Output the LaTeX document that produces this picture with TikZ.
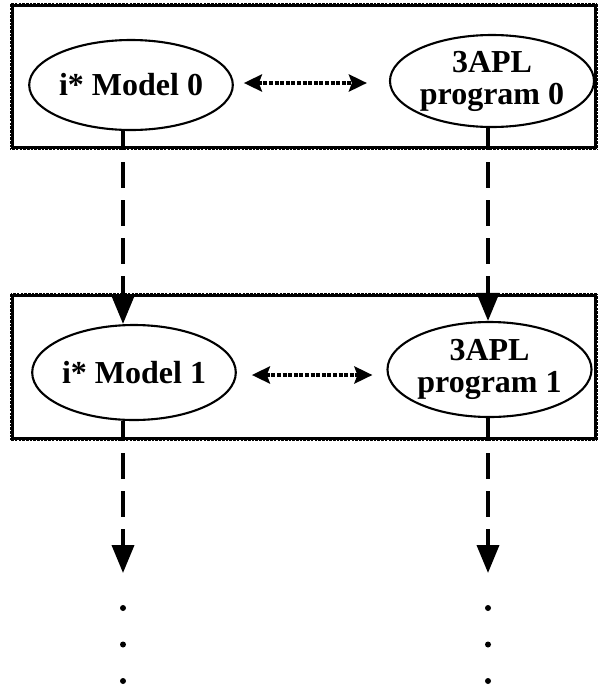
\documentclass[tikz,border=0pt]{standalone}
\usepackage{fontspec}
\setmainfont{Liberation Serif}
\usetikzlibrary{arrows.meta,shapes.geometric,calc}
\tikzset{
  x=1pt, y=-1pt,
  framebox/.style={draw, line width=4pt, inner sep=0pt},
  framedots/.style={draw=white, line width=1.1pt, dash pattern=on 1.1pt off 2.6pt},
  elli/.style={draw, ellipse, line width=2.1pt, inner sep=0pt,
    font=\bfseries\fontsize{32}{32}\selectfont, align=center},
  link/.style={line width=4pt, dash pattern=on 4pt off 1.6pt,
    {Stealth[length=18pt,width=17pt,inset=3pt]}-{Stealth[length=18pt,width=17pt,inset=3pt]}},
  flow/.style={line width=3.8pt, dash pattern=on 26pt off 12pt, dash phase=26pt,
    -{Triangle[length=28pt,width=22pt]}},
  stem/.style={line width=3.8pt},
  tdot/.style={circle, fill, inner sep=0pt, minimum size=6pt}
}
\begin{document}
\begin{tikzpicture}
\useasboundingbox (0,0) rectangle (600,691);
% frames around each stage
\node[framebox, minimum width=584pt, minimum height=143pt] (f0) at (304,76.5) {};
\node[framebox, minimum width=584pt, minimum height=144pt] (f1) at (304,367) {};
\draw[framedots] (f0.north west) rectangle (f0.south east);
\draw[framedots] (f1.north west) rectangle (f1.south east);
% stage 0
\node[elli, minimum width=198pt, minimum height=90pt] (a0) at (131,85) {i* Model 0};
\node[elli, minimum width=201pt, minimum height=92pt] (b0) at (492,81) {3APL\\program 0};
\draw[link] ($(a0.east)+(10,-2)$) coordinate (l0s) -- ($(b0.west)+(-22,2)$) coordinate (l0e);
% stage 1
\node[elli, minimum width=198pt, minimum height=95pt] (a1) at (134,372.5) {i* Model 1};
\node[elli, minimum width=197pt, minimum height=95pt] (b1) at (489.5,369.5) {3APL\\program 1};
\draw[link] ($(a1.east)+(15,2.5)$) coordinate (l1s) -- ($(b1.west)+(-14,5.5)$) coordinate (l1e);
% vertical flow between the stages
\coordinate (a0s) at ($(a0.south)+(-8,0)$);
\coordinate (b0s) at ($(b0.south)+(-4,0)$);
\draw[stem] (a0s) -- (a0s |- f0.south) coordinate (a0x);
\draw[stem] (b0s) -- (b0s |- f0.south) coordinate (b0x);
\draw[flow] (a0x) -- (a0x |- a1.north);
\draw[flow] (b0x) -- (b0x |- b1.north);
\coordinate (a1s) at ($(a1.south)+(-11,0)$);
\coordinate (b1s) at ($(b1.south)+(-1.5,0)$);
\draw[stem] (a1s) -- (a1s |- f1.south) coordinate (a1x);
\draw[stem] (b1s) -- (b1s |- f1.south) coordinate (b1x);
\coordinate (a2) at (a1x |- 0,573);
\coordinate (b2) at (b1x |- 0,573);
\draw[flow] (a1x) -- (a2);
\draw[flow] (b1x) -- (b2);
% continuation dots
\foreach \y [count=\i] in {608,644.5,681} {
  \node[tdot] (ad\i) at (a1x |- 0,\y) {};
  \node[tdot] (bd\i) at (b1x |- 0,\y) {};
}
\end{tikzpicture}
\end{document}
